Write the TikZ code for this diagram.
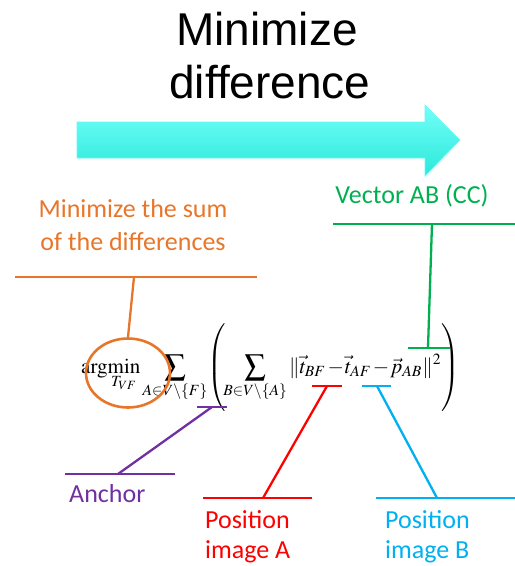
\documentclass[tikz,border=0pt]{standalone}
\usepackage{amsmath}
\usepackage{mathptmx}
\usepackage{graphicx}
\usepackage[no-math]{fontspec}
\newfontfamily\titlefont{Liberation Sans}
\newfontfamily\labelfont{Carlito}
\usetikzlibrary{positioning,shapes.geometric}

\definecolor{sumorange}{HTML}{E8762A}
\definecolor{vecgreen}{HTML}{00B050}
\definecolor{anchorpurple}{HTML}{7030A0}
\definecolor{posred}{HTML}{FF0000}
\definecolor{posblue}{HTML}{00B0F0}
\definecolor{arrowtop}{HTML}{72FFFA}
\definecolor{arrowbot}{HTML}{2BE8D9}

\begin{document}
\begin{tikzpicture}[x=1pt,y=-1pt]
\tikzset{
  titletext/.style={font=\titlefont\fontsize{46}{53}\selectfont,inner sep=0pt},
  labeltext/.style={font=\labelfont\fontsize{26}{30}\selectfont,inner sep=0pt,align=left},
  leader/.style={line width=2.3pt,line cap=butt},
}
\useasboundingbox (0,0) rectangle (515,566);

% title and arrow
\node[titletext,anchor=base] (title1) at (267,45) {Minimize};
\node[titletext,anchor=base] (title2) at (270,98) {difference};
\path[top color=arrowtop,bottom color=arrowbot,draw=arrowtop!80!arrowbot,line width=0.6pt]
  (77,122) -- (425,122) -- (425,105) -- (460,140) -- (425,176) -- (425,158) -- (77,158) -- cycle;

% formula
\node[anchor=base west,inner sep=0pt] (formula) at (81,373) {\resizebox{379pt}{!}{\medmuskip=1mu\thickmuskip=3mu$\displaystyle
  \arg\!\min_{T_{VF}} \sum_{A\in V\setminus\{F\}} \!\left(\vrule height 2.05em depth 2.05em width 0pt\! \sum_{B\in V\setminus\{A\}}
  \|\vec{t}_{BF}-\vec{t}_{AF}-\vec{p}_{AB}\|^2 \right)$}};

% labels (multi-line nodes sit on their last line)
\node[labeltext,text=sumorange,align=center,anchor=base,font=\labelfont\fontsize{26}{33}\selectfont] (sumlab) at (133,250) {Minimize the sum\\of the differences};
\node[labeltext,text=vecgreen,anchor=base] (veclab) at (412,203) {Vector AB (CC)};
\node[labeltext,text=anchorpurple,anchor=base west] (anchorlab) at (69,502) {Anchor};
\node[labeltext,text=posred,anchor=base west] (poslabA) at (205,558) {Position\\image A};
\node[labeltext,text=posblue,anchor=base west] (poslabB) at (385,558) {Position\\image B};

% leaders
\node[ellipse,draw=sumorange,line width=2.6pt,minimum width=84pt,minimum height=69pt,inner sep=0pt] (argring) at (128,373) {};
\coordinate (sumhook) at (134,277);
\draw[leader,sumorange] (15,277) -- (257,277);
\draw[leader,sumorange] (sumhook) -- (argring.north);

\coordinate (vechook) at (432,224);
\coordinate (vecfoot) at (428,348);
\draw[leader,vecgreen] (333,224) -- (515,224);
\draw[leader,vecgreen] (vechook) -- (vecfoot);
\draw[leader,vecgreen] (408,348) -- (450,348);

\coordinate (anchorfoot) at (212,407);
\coordinate (anchorhook) at (118,474);
\draw[leader,anchorpurple] (197,407) -- (227,407);
\draw[leader,anchorpurple] (anchorfoot) -- (anchorhook);
\draw[leader,anchorpurple] (65,474) -- (175,474);

\coordinate (posAfoot) at (327,386);
\coordinate (posAhook) at (263,498);
\draw[leader,posred] (312,386) -- (342,386);
\draw[leader,posred] (posAfoot) -- (posAhook);
\draw[leader,posred] (203,498) -- (312,498);

\coordinate (posBfoot) at (377,386);
\coordinate (posBhook) at (437,498);
\draw[leader,posblue] (362,386) -- (391,386);
\draw[leader,posblue] (posBfoot) -- (posBhook);
\draw[leader,posblue] (376,498) -- (515,498);
\end{tikzpicture}
\end{document}
